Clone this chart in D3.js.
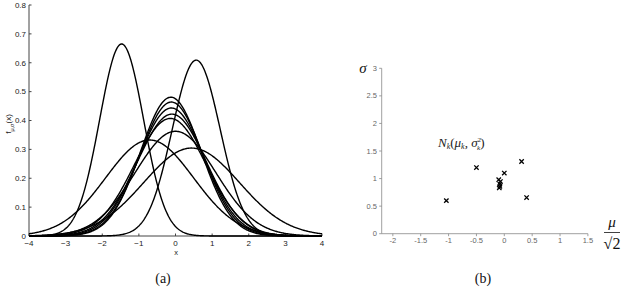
<!DOCTYPE html>
<html><head><meta charset="utf-8">
<script src="https://cdn.jsdelivr.net/npm/d3@7"></script>
<style>body{margin:0;background:#fff}svg{display:block}</style>
</head><body>
<svg id="c" width="630" height="296"></svg>
<script>
// Component parameters: x = mu/sqrt(2), y = sigma
const muScaled = [-1.04, -0.50, 0.31, 0.00, -0.10, -0.07, -0.08, -0.08, -0.09, 0.40];
const sigma    = [ 0.60,  1.20, 1.31, 1.10,  0.98,  0.945, 0.90, 0.86, 0.83, 0.655];
const leftXTicks = [-4,-3,-2,-1,0,1,2,3,4];
const leftYTicks = [0,0.1,0.2,0.3,0.4,0.5,0.6,0.7,0.8];
const rightXTicks = [-2,-1.5,-1,-0.5,0,0.5,1,1.5];
const rightYTicks = [0,0.5,1,1.5,2,2.5,3];

const svg = d3.select("#c");
const sans = "Liberation Sans, Arial, sans-serif";
const serif = "DejaVu Serif, Liberation Serif, serif";
const serif2 = "Liberation Serif, serif";

// ---- Panel (a) ----
const xa = d3.scaleLinear().domain([-4,4]).range([29,322]);
const ya = d3.scaleLinear().domain([0,0.8]).range([236,5]);
const ga = svg.append("g");
const axCol = "#444";
ga.append("line").attr("x1",xa(-4)).attr("x2",xa(4)).attr("y1",ya(0)).attr("y2",ya(0)).attr("stroke",axCol).attr("stroke-width",1);
ga.append("line").attr("x1",xa(-4)).attr("x2",xa(-4)).attr("y1",ya(0)).attr("y2",ya(0.8)).attr("stroke",axCol).attr("stroke-width",1);
leftXTicks.forEach(t=>{
  ga.append("line").attr("x1",xa(t)).attr("x2",xa(t)).attr("y1",ya(0)).attr("y2",ya(0)-2.5).attr("stroke",axCol);
  ga.append("text").attr("x",xa(t)).attr("y",246).attr("text-anchor","middle")
    .attr("font-family",sans).attr("font-size",8).attr("fill","#222").text(t<0?"\u2212"+(-t):t);
});
leftYTicks.forEach(t=>{
  ga.append("line").attr("x1",xa(-4)).attr("x2",xa(-4)+2.5).attr("y1",ya(t)).attr("y2",ya(t)).attr("stroke",axCol);
  ga.append("text").attr("x",26).attr("y",ya(t)+2.8).attr("text-anchor","end")
    .attr("font-family",sans).attr("font-size",8).attr("fill","#222").text(t);
});
ga.append("text").attr("x",176).attr("y",255).attr("text-anchor","middle")
  .attr("font-family",sans).attr("font-size",7.5).attr("fill","#222").text("x");
const yl = ga.append("text").attr("transform","translate(11,124) rotate(-90)").attr("text-anchor","middle")
  .attr("font-family",sans).attr("font-size",8).attr("fill","#222");
yl.append("tspan").text("f");
yl.append("tspan").attr("font-size",5.5).attr("dy",2.5).text("\u03bc,\u03c3");
yl.append("tspan").attr("dy",-2.5).text("(x)");

const xs = d3.range(-4, 4.0001, 0.02);
const pdf = (x,m,s)=>Math.exp(-0.5*((x-m)/s)**2)/(s*Math.sqrt(2*Math.PI));
const line = d3.line().x(d=>xa(d[0])).y(d=>ya(d[1]));
muScaled.forEach((ms,i)=>{
  const m = ms*Math.SQRT2, s = sigma[i];
  ga.append("path").attr("d", line(xs.map(x=>[x,pdf(x,m,s)])))
    .attr("fill","none").attr("stroke","#000").attr("stroke-width",1.4);
});
svg.append("text").attr("x",163).attr("y",283).attr("text-anchor","middle")
  .attr("font-family",serif2).attr("font-size",14).attr("fill","#111").text("(a)");

// ---- Panel (b) ----
const xb = d3.scaleLinear().domain([-2.2,1.5]).range([381.7,587.9]);
const yb = d3.scaleLinear().domain([0,3]).range([233.7,68.3]);
const gb = svg.append("g");
const gCol = "#888";
gb.append("line").attr("x1",xb(-2.2)).attr("x2",xb(1.5)).attr("y1",yb(0)).attr("y2",yb(0)).attr("stroke",gCol).attr("stroke-width",0.8);
gb.append("line").attr("x1",xb(-2.2)).attr("x2",xb(-2.2)).attr("y1",yb(0)).attr("y2",yb(3)).attr("stroke",gCol).attr("stroke-width",0.8);
rightXTicks.forEach(t=>{
  gb.append("line").attr("x1",xb(t)).attr("x2",xb(t)).attr("y1",yb(0)).attr("y2",yb(0)+2.5).attr("stroke",gCol).attr("stroke-width",0.8);
  gb.append("text").attr("x",xb(t)).attr("y",243).attr("text-anchor","middle")
    .attr("font-family",sans).attr("font-size",7.5).attr("fill","#666").text(t);
});
rightYTicks.forEach(t=>{
  gb.append("line").attr("x1",xb(-2.2)).attr("x2",xb(-2.2)-2.5).attr("y1",yb(t)).attr("y2",yb(t)).attr("stroke",gCol).attr("stroke-width",0.8);
  gb.append("text").attr("x",377).attr("y",yb(t)+2.6).attr("text-anchor","end")
    .attr("font-family",sans).attr("font-size",7.5).attr("fill","#666").text(t);
});
const r = 2.2;
muScaled.forEach((ms,i)=>{
  const cx = xb(ms), cy = yb(sigma[i]);
  gb.append("path").attr("d",`M${cx-r},${cy-r}L${cx+r},${cy+r}M${cx-r},${cy+r}L${cx+r},${cy-r}`)
    .attr("stroke","#000").attr("stroke-width",1.3);
});
gb.append("text").attr("x",363).attr("y",73).attr("text-anchor","middle")
  .attr("font-family",serif2).attr("font-style","italic").attr("font-size",15).attr("fill","#111").text("\u03c3");
const nl = gb.append("text").attr("x",438).attr("y",147)
  .attr("font-family",serif2).attr("font-size",13).attr("fill","#222");
nl.append("tspan").attr("font-style","italic").text("N");
nl.append("tspan").attr("font-style","italic").attr("font-size",8).attr("dy",2).text("k");
nl.append("tspan").attr("dy",-2).text("(");
nl.append("tspan").attr("font-style","italic").text("\u03bc");
nl.append("tspan").attr("font-style","italic").attr("font-size",8).attr("dy",2).text("k");
nl.append("tspan").attr("dy",-2).text(", ");
nl.append("tspan").attr("font-style","italic").text("\u03c3");
nl.append("tspan").attr("font-size",7).attr("dy",-5).text("2");
nl.append("tspan").attr("font-style","italic").attr("font-size",7).attr("dx",-4).attr("dy",8).text("k");
nl.append("tspan").attr("dy",-3).text(")");
gb.append("text").attr("x",612).attr("y",227).attr("text-anchor","middle")
  .attr("font-family",serif2).attr("font-style","italic").attr("font-size",15).attr("fill","#111").text("\u03bc");
gb.append("line").attr("x1",604).attr("x2",620).attr("y1",232.5).attr("y2",232.5).attr("stroke","#111").attr("stroke-width",0.8);
gb.append("text").attr("x",612).attr("y",249).attr("text-anchor","middle")
  .attr("font-family",serif2).attr("font-size",16).attr("fill","#111").text("\u221a2");
svg.append("text").attr("x",483).attr("y",283).attr("text-anchor","middle")
  .attr("font-family",serif2).attr("font-size",14).attr("fill","#111").text("(b)");
</script>
</body></html>
